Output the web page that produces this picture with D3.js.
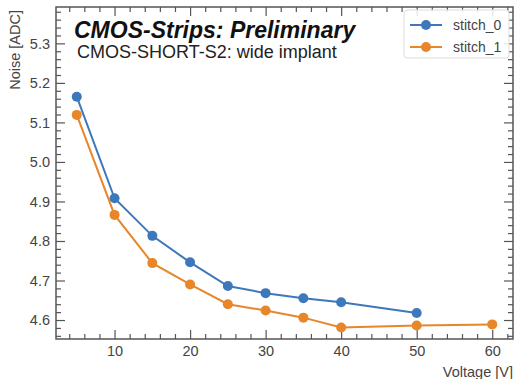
<!DOCTYPE html>
<html>
<head>
<meta charset="utf-8">
<script src="https://cdn.jsdelivr.net/npm/d3@7"></script>
<style>
  body { margin: 0; background: #fff; }
  svg { font-family: "Liberation Sans", Arial, sans-serif; }
</style>
</head>
<body>
<script>
// data
const voltages0 = [5, 10, 15, 20, 25, 30, 35, 40, 50];
const noise0 = [5.165, 4.908, 4.813, 4.746, 4.686, 4.668, 4.655, 4.645, 4.618];
const voltages1 = [5, 10, 15, 20, 25, 30, 35, 40, 50, 60];
const noise1 = [5.119, 4.866, 4.744, 4.690, 4.640, 4.624, 4.606, 4.581, 4.586, 4.589];
const seriesNames = ["stitch_0", "stitch_1"];
const xTicks = [10, 20, 30, 40, 50, 60];
const yTicks = [4.6, 4.7, 4.8, 4.9, 5.0, 5.1, 5.2, 5.3];

const width = 516, height = 379;
const plotLeft = 56, plotRight = 513, plotTop = 7, plotBottom = 339;
const colors = ["#3d78bb", "#e8862a"];
const axisColor = "#555";

const svg = d3.select("body").append("svg")
    .attr("width", width)
    .attr("height", height);

const x = d3.scaleLinear().domain([2.25, 62.75]).range([plotLeft, plotRight]);
const y = d3.scaleLinear().domain([4.552, 5.392]).range([plotBottom, plotTop]);

const xMinor = d3.range(4, 63, 2).filter(v => v % 10 !== 0);
const yMinor = d3.range(4.56, 5.39, 0.02).filter(v => Math.abs(Math.round(v * 10) - v * 10) > 0.01);

function styleAxis(g) {
    g.select(".domain").remove();
    g.selectAll("line").attr("stroke", axisColor).attr("stroke-width", 1.2);
    g.selectAll("text").attr("fill", "#444").style("font-size", "14.5px");
}

// major + minor ticks on all four sides, pointing inward
svg.append("g").attr("transform", `translate(0,${plotBottom})`)
    .call(d3.axisBottom(x).tickValues(xTicks).tickSize(-9).tickPadding(7).tickFormat(d3.format("d")))
    .call(styleAxis);
svg.append("g").attr("transform", `translate(0,${plotBottom})`)
    .call(d3.axisBottom(x).tickValues(xMinor).tickSize(-5).tickFormat(""))
    .call(styleAxis);
svg.append("g").attr("transform", `translate(0,${plotTop})`)
    .call(d3.axisTop(x).tickValues(xTicks).tickSize(-9).tickFormat(""))
    .call(styleAxis);
svg.append("g").attr("transform", `translate(0,${plotTop})`)
    .call(d3.axisTop(x).tickValues(xMinor).tickSize(-5).tickFormat(""))
    .call(styleAxis);

svg.append("g").attr("transform", `translate(${plotLeft},0)`)
    .call(d3.axisLeft(y).tickValues(yTicks).tickSize(-9).tickPadding(6).tickFormat(d3.format(".1f")))
    .call(styleAxis);
svg.append("g").attr("transform", `translate(${plotLeft},0)`)
    .call(d3.axisLeft(y).tickValues(yMinor).tickSize(-5).tickFormat(""))
    .call(styleAxis);
svg.append("g").attr("transform", `translate(${plotRight},0)`)
    .call(d3.axisRight(y).tickValues(yTicks).tickSize(-9).tickFormat(""))
    .call(styleAxis);
svg.append("g").attr("transform", `translate(${plotRight},0)`)
    .call(d3.axisRight(y).tickValues(yMinor).tickSize(-5).tickFormat(""))
    .call(styleAxis);

// frame
svg.append("rect")
    .attr("x", plotLeft).attr("y", plotTop)
    .attr("width", plotRight - plotLeft).attr("height", plotBottom - plotTop)
    .attr("fill", "none")
    .attr("stroke", axisColor)
    .attr("stroke-width", 1.5);

// series
const series = [
    { name: seriesNames[0], xs: voltages0, ys: noise0, color: colors[0] },
    { name: seriesNames[1], xs: voltages1, ys: noise1, color: colors[1] }
];

const line = d3.line().x(d => x(d[0])).y(d => y(d[1]));

series.forEach(s => {
    const pts = s.xs.map((v, i) => [v, s.ys[i]]);
    svg.append("path")
        .datum(pts)
        .attr("d", line)
        .attr("fill", "none")
        .attr("stroke", s.color)
        .attr("stroke-width", 2);
    svg.selectAll(null)
        .data(pts)
        .enter().append("circle")
        .attr("cx", d => x(d[0]))
        .attr("cy", d => y(d[1]))
        .attr("r", 5)
        .attr("fill", s.color);
});

// texts
svg.append("text")
    .attr("x", 74).attr("y", 37.5)
    .attr("font-size", 23)
    .attr("font-weight", "bold")
    .attr("font-style", "italic")
    .attr("fill", "#111")
    .text("CMOS-Strips: Preliminary");

svg.append("text")
    .attr("x", 77).attr("y", 58)
    .attr("font-size", 18)
    .attr("fill", "#222")
    .text("CMOS-SHORT-S2: wide implant");

svg.append("text")
    .attr("transform", `translate(20,${plotTop + 3}) rotate(-90)`)
    .attr("text-anchor", "end")
    .attr("font-size", 14.5)
    .attr("fill", "#444")
    .text("Noise [ADC]");

svg.append("text")
    .attr("x", plotRight).attr("y", 377)
    .attr("text-anchor", "end")
    .attr("font-size", 14.5)
    .attr("fill", "#444")
    .text("Voltage [V]");

// legend
const legend = svg.append("g");
legend.append("rect")
    .attr("x", 404).attr("y", 10)
    .attr("width", 105).attr("height", 48)
    .attr("rx", 3)
    .attr("fill", "#fff")
    .attr("fill-opacity", 0.85)
    .attr("stroke", "#ddd");

series.forEach((s, i) => {
    const ly = 25 + i * 22;
    legend.append("line")
        .attr("x1", 410).attr("x2", 442)
        .attr("y1", ly).attr("y2", ly)
        .attr("stroke", s.color)
        .attr("stroke-width", 2);
    legend.append("circle")
        .attr("cx", 426).attr("cy", ly).attr("r", 5)
        .attr("fill", s.color);
    legend.append("text")
        .attr("x", 453).attr("y", ly + 5)
        .attr("font-size", 14)
        .attr("fill", "#444")
        .text(s.name);
});
</script>
</body>
</html>
